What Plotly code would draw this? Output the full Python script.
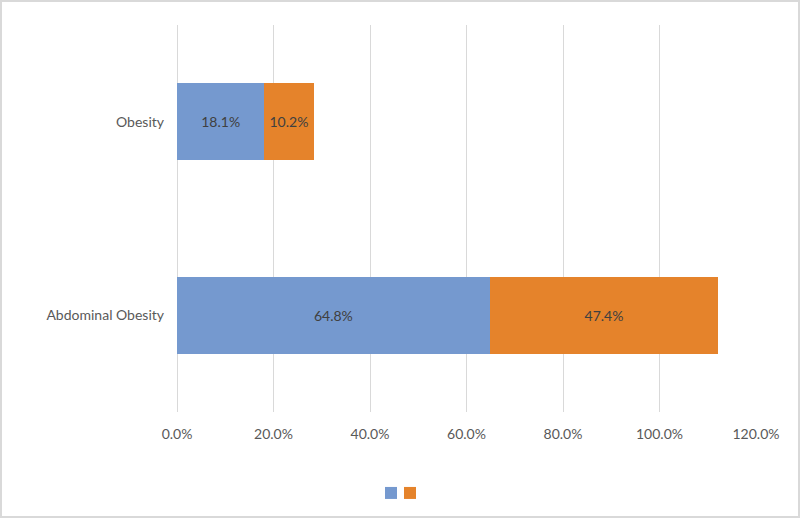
# Horizontal stacked bars: obesity prevalence
import plotly.graph_objects as go

categories = ["Abdominal Obesity", "Obesity"]
series_a = [64.8, 18.1]
series_b = [47.4, 10.2]
x_ticks = [0, 20, 40, 60, 80, 100, 120]
x_tick_labels = ["0.0%", "20.0%", "40.0%", "60.0%", "80.0%", "100.0%", "120.0%"]

W, H = 800, 518
L, R, T, B = 177, 44, 25, 106
pw = W - L - R
ph = H - T - B

fig = go.Figure()
fig.add_trace(go.Bar(
    y=categories, x=series_a, orientation="h", name="", legend="legend",
    marker=dict(color="#7599CF", line=dict(width=0)),
    text=[f"{v:.1f}%" for v in series_a], textposition="inside",
    insidetextanchor="middle", textangle=0,
    textfont=dict(color="#404040", size=14), hoverinfo="skip",
))
fig.add_trace(go.Bar(
    y=categories, x=series_b, orientation="h", name="", legend="legend2",
    marker=dict(color="#E5832B", line=dict(width=0)),
    text=[f"{v:.1f}%" for v in series_b], textposition="inside",
    insidetextanchor="middle", textangle=0,
    textfont=dict(color="#404040", size=14), hoverinfo="skip",
))

# thin light frame round the whole chart
fig.add_shape(
    type="rect", xref="paper", yref="paper",
    x0=(-L + 1) / pw, x1=1 + (R - 1) / pw,
    y0=(-B + 1) / ph, y1=1 + (T - 1) / ph,
    line=dict(color="#D9D9D9", width=2), layer="below",
)

leg = dict(
    xanchor="left", yanchor="middle",
    y=-(493 - (T + ph)) / ph, bgcolor="rgba(0,0,0,0)", font=dict(size=13),
    itemwidth=30,
)

fig.update_layout(
    width=W, height=H,
    barmode="stack", bargap=0.6,
    paper_bgcolor="white", plot_bgcolor="white",
    margin=dict(l=L, r=R, t=T, b=B, autoexpand=False),
    font=dict(family="Lato, 'Open Sans', sans-serif", size=14, color="#595959"),
    showlegend=True,
    legend=dict(leg, x=(391 - 20 - L) / pw),
    legend2=dict(leg, x=(410 - 20 - L) / pw),
    xaxis=dict(
        range=[0, 120], tickvals=x_ticks, ticktext=x_tick_labels,
        showgrid=True, gridcolor="#D9D9D9", gridwidth=1,
        zeroline=True, zerolinecolor="#D9D9D9", zerolinewidth=1,
        showline=False, ticklabelstandoff=12, fixedrange=True,
        automargin=False,
    ),
    yaxis=dict(
        showgrid=False, zeroline=False, showline=False,
        ticklabelstandoff=12, fixedrange=True, automargin=False,
    ),
)

fig.write_html(
    "out.html",
    config={"displayModeBar": False},
    post_script="document.body.style.margin='0';",
)
